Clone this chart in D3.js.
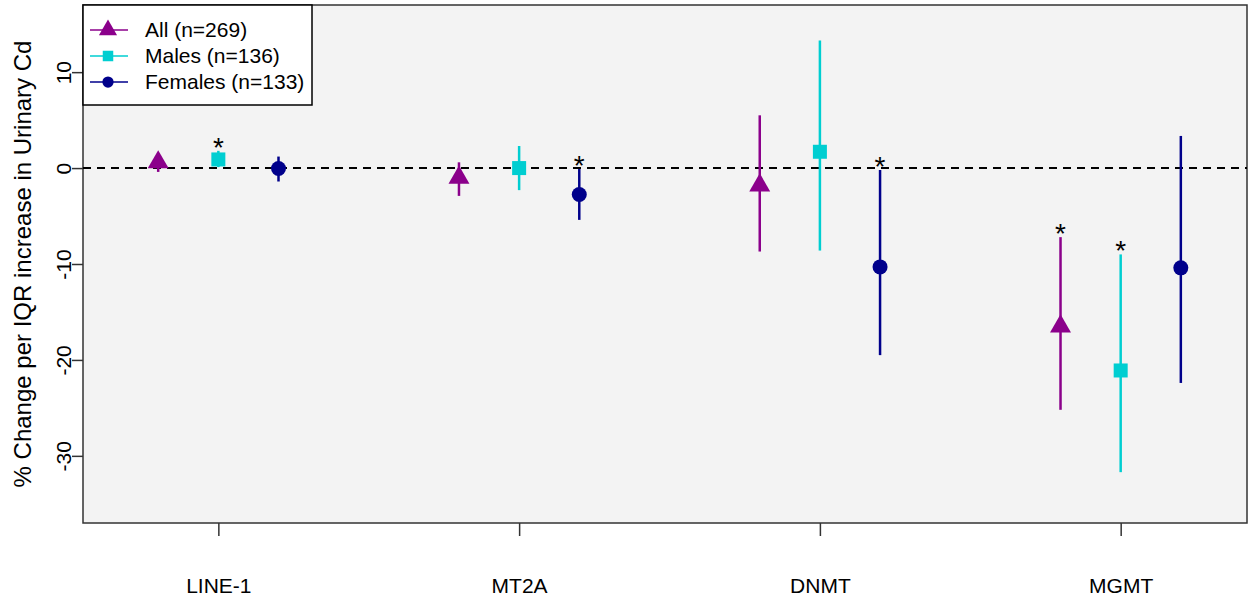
<!DOCTYPE html>
<html>
<head>
<meta charset="utf-8">
<script src="https://cdn.jsdelivr.net/npm/d3@7"></script>
<style>
  body { margin: 0; background: #fff; }
  text { font-family: "Liberation Sans", Arial, sans-serif; }
</style>
</head>
<body>
<div id="chart"></div>
<script>
// data
var genes = ["LINE-1", "MT2A", "DNMT", "MGMT"]
var groups = ["All (n=269)", "Males (n=136)", "Females (n=133)"]
var colors = ["#8B008B", "#00CED1", "#00008B"]
var shapes = ["triangle", "square", "circle"]

// estimate, lower CI, upper CI per gene, one array per group
var allEst = [0.6, -1.0, -1.8, -16.5]
var allLo = [-0.4, -2.9, -8.7, -25.2]
var allHi = [1.4, 0.6, 5.5, -7.2]
var allSig = [false, false, false, true]

var maleEst = [0.9, 0.0, 1.7, -21.1]
var maleLo = [0.1, -2.3, -8.6, -31.7]
var maleHi = [1.8, 2.3, 13.3, -9.0]
var maleSig = [true, false, false, true]

var femEst = [-0.05, -2.75, -10.3, -10.4]
var femLo = [-1.4, -5.4, -19.5, -22.4]
var femHi = [1.2, -0.1, -0.2, 3.35]
var femSig = [false, true, true, false]

var yTicks = [-30, -20, -10, 0, 10]

var W = 1249, H = 602
var plot = {left: 83, right: 1247, top: 5, bottom: 523}

var svg = d3.select("#chart").append("svg")
    .attr("width", W).attr("height", H)

var x = d3.scaleLinear().domain([0.55, 4.42]).range([plot.left, plot.right])
var y = d3.scaleLinear().domain([-37, 17]).range([plot.bottom, plot.top])
var offset = 0.2

// panel
svg.append("rect")
    .attr("x", plot.left).attr("y", plot.top)
    .attr("width", plot.right - plot.left).attr("height", plot.bottom - plot.top)
    .attr("fill", "#f3f3f3").attr("stroke", "#333").attr("stroke-width", 1.5)

// zero line
svg.append("line")
    .attr("x1", plot.left).attr("x2", plot.right)
    .attr("y1", y(0)).attr("y2", y(0))
    .attr("stroke", "#000").attr("stroke-width", 2).attr("stroke-dasharray", "8,6")

// y axis
var yAxis = svg.append("g")
    .attr("transform", "translate(" + plot.left + ",0)")
    .call(d3.axisLeft(y).tickValues(yTicks).tickSize(11).tickPadding(0)
      .tickFormat(function(d) { return String(d) }))
yAxis.select(".domain").remove()
yAxis.selectAll(".tick line").attr("stroke", "#333").attr("stroke-width", 1.5)
yAxis.selectAll(".tick text")
    .attr("x", 0).attr("dy", null)
    .attr("transform", "translate(-12,0) rotate(-90)")
    .attr("text-anchor", "middle").attr("dominant-baseline", "auto")
    .style("font-size", "21px").attr("fill", "#000")

svg.append("text")
    .attr("transform", "translate(31," + ((plot.top + plot.bottom) / 2) + ") rotate(-90)")
    .attr("text-anchor", "middle")
    .style("font-size", "24px")
    .text("% Change per IQR increase in Urinary Cd")

// x axis
var xAxis = svg.append("g")
    .attr("transform", "translate(0," + plot.bottom + ")")
    .call(d3.axisBottom(x).tickValues([1, 2, 3, 4]).tickSize(13).tickPadding(42)
      .tickFormat(function(d) { return genes[d - 1] }))
xAxis.select(".domain").remove()
xAxis.selectAll(".tick line").attr("stroke", "#333").attr("stroke-width", 1.5)
xAxis.selectAll(".tick text").style("font-size", "21px").attr("fill", "#000")

var series = [
  {est: allEst, lo: allLo, hi: allHi, sig: allSig},
  {est: maleEst, lo: maleLo, hi: maleHi, sig: maleSig},
  {est: femEst, lo: femLo, hi: femHi, sig: femSig}
]

function symbol(g, shape, cx, cy, color, s) {
  if (shape == "triangle") {
    g.append("path")
      .attr("d", d3.symbol().type(d3.symbolTriangle).size(s * 190)())
      .attr("transform", "translate(" + cx + "," + cy + ")")
      .attr("fill", color)
  } else if (shape == "square") {
    g.append("rect")
      .attr("x", cx - 7 * s).attr("y", cy - 7 * s)
      .attr("width", 14 * s).attr("height", 14 * s)
      .attr("fill", color)
  } else {
    g.append("circle").attr("cx", cx).attr("cy", cy).attr("r", 7.5 * s).attr("fill", color)
  }
}

var marks = svg.append("g")
for (let k = 0; k < 3; k++) {
  let s = series[k]
  for (let i = 0; i < genes.length; i++) {
    let cx = x(i + 1 + (k - 1) * offset)
    marks.append("line")
      .attr("x1", cx).attr("x2", cx)
      .attr("y1", y(s.lo[i])).attr("y2", y(s.hi[i]))
      .attr("stroke", colors[k]).attr("stroke-width", 2.5)
    symbol(marks, shapes[k], cx, y(s.est[i]), colors[k], 1)
    if (s.sig[i]) {
      marks.append("text")
        .attr("x", cx).attr("y", y(s.hi[i]) + 6)
        .attr("text-anchor", "middle")
        .style("font-size", "28px")
        .text("*")
    }
  }
}

// legend
var leg = svg.append("g")
leg.append("rect")
    .attr("x", plot.left).attr("y", plot.top)
    .attr("width", 229).attr("height", 100)
    .attr("fill", "#fff").attr("stroke", "#000").attr("stroke-width", 1.5)
for (let k = 0; k < 3; k++) {
  let ly = 30 + k * 26
  leg.append("line")
    .attr("x1", 90).attr("x2", 128).attr("y1", ly).attr("y2", ly)
    .attr("stroke", colors[k]).attr("stroke-width", 1.5)
  symbol(leg, shapes[k], 108, ly, colors[k], 0.75)
  leg.append("text")
    .attr("x", 145).attr("y", ly + 7)
    .style("font-size", "21px")
    .text(groups[k])
}
</script>
</body>
</html>
